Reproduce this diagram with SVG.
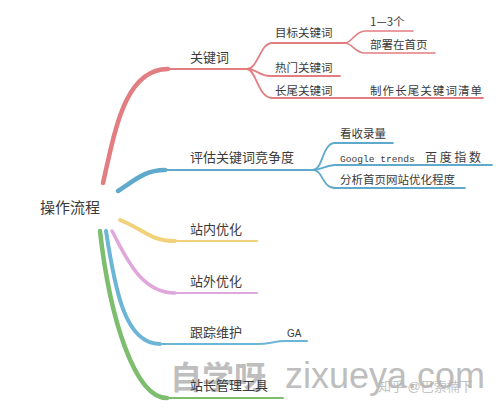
<svg xmlns="http://www.w3.org/2000/svg" width="500" height="413" viewBox="0 0 500 413">
<style>
  text { font-family: "Noto Sans CJK SC", "Liberation Sans", sans-serif; fill: #3a3a3a; }
  .root { font-size: 15px; }
  .l1 { font-size: 13px; }
  .l2 { font-size: 11.5px; }
  .mono { font-family: "Liberation Mono", "DejaVu Sans Mono", monospace; font-size: 9.6px; }
  .c { fill: none; stroke-linecap: round; }
  .red { stroke: #e27d82; }
  .blue { stroke: #5fa9cc; }
  .yellow { stroke: #f1d27a; }
  .pink { stroke: #dfa7db; }
  .cyan { stroke: #6cb5d6; }
  .green { stroke: #7cbd6e; }
  .wm { font-family: "Liberation Sans", "Noto Sans CJK SC", sans-serif; fill: #b3b3b3; }
</style>
<rect width="500" height="413" fill="#ffffff"/>

<g id="connectors">
  <path class="c red" stroke-width="4.5" d="M103,183 C115,130 125,69 168,69"/>
  <path class="c red" stroke-width="2" d="M160,69 L247,69"/>
  <path class="c blue" stroke-width="4.5" d="M118,191 C135,180 145,170 165,170"/>
  <path class="c blue" stroke-width="2" d="M158,170 L313,170"/>
  <path class="c yellow" stroke-width="4" d="M120,220 C145,230 150,241 175,241"/>
  <path class="c yellow" stroke-width="2" d="M168,241 L257,241"/>
  <path class="c pink" stroke-width="3.5" d="M112,231 C125,255 140,293 175,293"/>
  <path class="c pink" stroke-width="2" d="M168,293 L257,293"/>
  <path class="c cyan" stroke-width="4" d="M106,231 C115,290 125,344 160,344"/>
  <path class="c cyan" stroke-width="2" d="M155,344 L257,344 C270,344 274,341 285,341 L307,341"/>
  <path class="c green" stroke-width="4.5" d="M100,231 C110,320 135,398 167,398"/>
  <path class="c green" stroke-width="2" d="M160,398 L283,398"/>

  <path class="c red" stroke-width="1.8" d="M247,69 C258,69 260,43 272,43 L345,43"/>
  <path class="c red" stroke-width="1.5" d="M345,43 C352,43 355,31 365,31 L413,31"/>
  <path class="c red" stroke-width="1.5" d="M345,43 C352,43 355,53 365,53 L435,53"/>
  <path class="c red" stroke-width="1.8" d="M247,69 C256,69 260,76 270,76 L340,76"/>
  <path class="c red" stroke-width="1.8" d="M247,69 C256,69 258,98 272,98 L483,98"/>

  <path class="c blue" stroke-width="1.8" d="M313,170 C323,170 322,143 335,143 L393,143"/>
  <path class="c blue" stroke-width="1.8" d="M313,170 C322,170 325,165 335,165 L492,165"/>
  <path class="c blue" stroke-width="1.8" d="M313,170 C323,170 322,188 335,188 L465,188"/>
</g>

<g id="root"><text class="root" x="40" y="213">操作流程</text></g>

<g id="n-keywords"><text class="l1" x="190" y="62">关键词</text></g>
<g id="n-target"><text class="l2" x="275" y="37">目标关键词</text></g>
<g id="n-1to3"><text class="l2" x="370" y="26">1—3个</text></g>
<g id="n-deploy"><text class="l2" x="370" y="49">部署在首页</text></g>
<g id="n-hot"><text class="l2" x="275" y="72">热门关键词</text></g>
<g id="n-longtail"><text class="l2" x="275" y="95">长尾关键词</text></g>
<g id="n-list"><text class="l2" x="370" y="95" textLength="112" lengthAdjust="spacing">制作长尾关键词清单</text></g>

<g id="n-eval"><text class="l1" x="190" y="162">评估关键词竞争度</text></g>
<g id="n-index"><text class="l2" x="340" y="138">看收录量</text></g>
<g id="n-trends">
  <text class="mono" x="340" y="162">Google trends</text>
  <text class="l2" x="425" y="162" style="font-size:12px" textLength="56" lengthAdjust="spacing">百度指数</text>
</g>
<g id="n-analyze"><text class="l2" x="340" y="184" textLength="115" lengthAdjust="spacing">分析首页网站优化程度</text></g>

<g id="n-onsite"><text class="l1" x="190" y="234">站内优化</text></g>
<g id="n-offsite"><text class="l1" x="190" y="286">站外优化</text></g>
<g id="n-track"><text class="l1" x="190" y="337">跟踪维护</text></g>
<g id="n-ga"><text style="font-family:'Liberation Sans',sans-serif;font-size:10px" x="287" y="337">GA</text></g>

<g id="watermark">
  <text class="wm" x="170" y="389" font-size="32" font-weight="bold" opacity="0.85">自学呀</text>
  <text class="wm" x="285" y="388" font-size="36" opacity="0.85">zixueya.com</text>
  <text class="wm" x="378" y="391" font-size="13" fill="#999" opacity="0.8">知乎 @巴索楠下</text>
</g>

<g id="n-tools"><text class="l1" x="190" y="390">站长管理工具</text></g>
</svg>
